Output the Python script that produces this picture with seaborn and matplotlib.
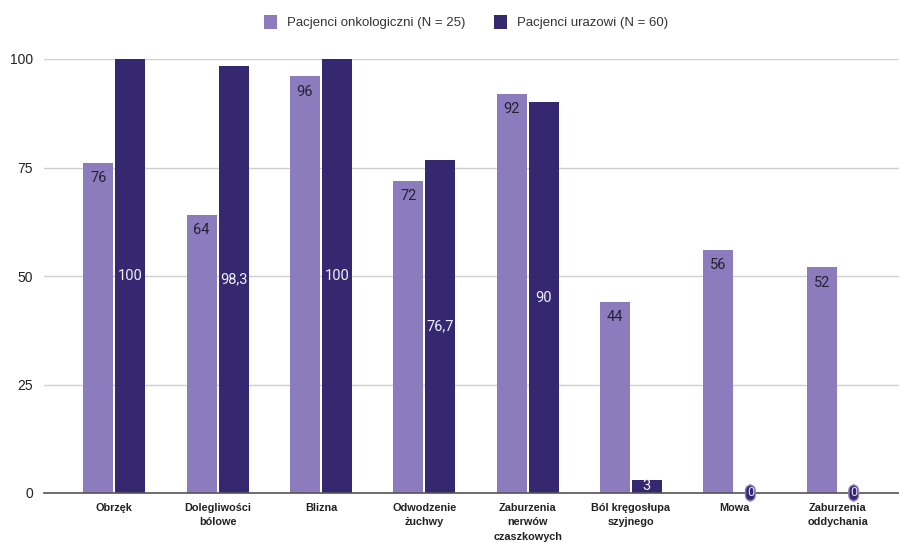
import matplotlib
matplotlib.use("Agg")
import matplotlib.pyplot as plt
import seaborn as sns
import pandas as pd

categories = ["Obrzęk", "Dolegliwości\nbólowe", "Blizna", "Odwodzenie\nżuchwy",
              "Zaburzenia\nnerwów\nczaszkowych", "Ból kręgosłupa\nszyjnego", "Mowa",
              "Zaburzenia\noddychania"]
onko = [76, 64, 96, 72, 92, 44, 56, 52]
uraz = [100, 98.3, 100, 76.7, 90, 3, 0, 0]
series = ["Pacjenci onkologiczni (N = 25)", "Pacjenci urazowi (N = 60)"]
colors = ["#8c7cbd", "#352870"]

df = pd.DataFrame({
    "kategoria": categories * 2,
    "wartosc": onko + uraz,
    "grupa": [series[0]] * len(categories) + [series[1]] * len(categories),
})

sns.set_theme(style="white")
plt.rcParams["font.family"] = ["Liberation Sans", "DejaVu Sans"]

fig = plt.figure(figsize=(8.99, 5.42), dpi=100)
ax = fig.add_axes([44 / 899, 49 / 542, 866 / 899, 434 / 542])

sns.barplot(data=df, x="kategoria", y="wartosc", hue="grupa", palette=colors,
            width=0.62, gap=0.06, saturation=1, linewidth=0, ax=ax, legend=True)

ax.set_xlim(-0.68, 7.70)
ax.set_ylim(0, 100)
ax.set_yticks([0, 25, 50, 75, 100])
ax.yaxis.grid(True, color="#d0d0d0", linewidth=1)
ax.set_axisbelow(True)
for s in ["top", "right", "left"]:
    ax.spines[s].set_visible(False)
ax.spines["bottom"].set_color("#555555")
ax.spines["bottom"].set_linewidth(1.2)
ax.set_xlabel("")
ax.set_ylabel("")
ax.tick_params(axis="y", length=0, pad=8, labelsize=10, labelcolor="#222222")
ax.tick_params(axis="x", length=0, pad=7)
for lab in ax.get_xticklabels():
    lab.set_fontsize(7.8)
    lab.set_fontweight("bold")
    lab.set_color("#222222")
    lab.set_linespacing(1.55)
    lab.set_verticalalignment("top")

# value labels: light bars near the top, dark bars at mid-height
light, dark = ax.containers[0], ax.containers[1]
for bar, v in zip(light, onko):
    x = bar.get_x() + bar.get_width() / 2
    ax.text(x, v - 3.5, f"{v:g}", ha="center", va="center", fontsize=10.5,
            color="#222233", family=["Roboto", "DejaVu Sans"], clip_on=False)
for bar, v in zip(dark, uraz):
    x = bar.get_x() + bar.get_width() / 2
    txt = f"{v:g}".replace(".", ",")
    if v == 0:
        ax.text(x, 0, txt, ha="center", va="center", fontsize=9, color="#e8e4f4",
                family=["Roboto", "DejaVu Sans"], clip_on=False, zorder=5,
                bbox=dict(boxstyle="round,pad=0.1,rounding_size=0.45", fc=colors[1],
                          ec="#8c7cbd", lw=1))
    else:
        ax.text(x, v / 2, txt, ha="center", va="center", fontsize=10.5,
                color="#f0f0f8", family=["Roboto", "DejaVu Sans"], clip_on=False)

leg = ax.legend(loc="center", bbox_to_anchor=(466 / 899, 1 - 22 / 542),
                bbox_transform=fig.transFigure, ncol=2, frameon=False, fontsize=9.5,
                handlelength=1.0, handleheight=1.3, handletextpad=0.75, columnspacing=2.2)
for t in leg.get_texts():
    t.set_color("#333333")

fig.savefig("out.png", dpi=100)
